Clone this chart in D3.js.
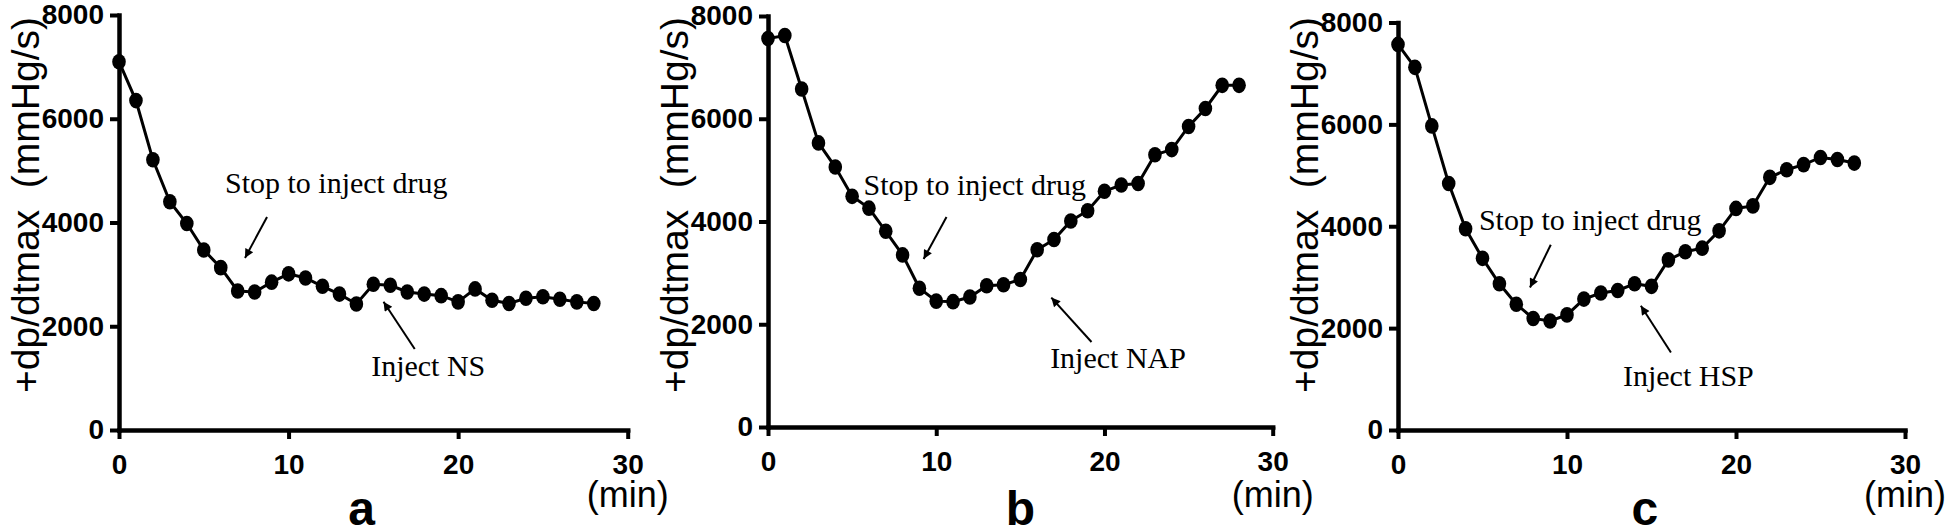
<!DOCTYPE html>
<html>
<head>
<meta charset="utf-8">
<script src="https://cdn.jsdelivr.net/npm/d3@7"></script>
<style>
  html, body { margin: 0; padding: 0; background: #fff; }
  svg { display: block; }
</style>
</head>
<body>
<svg id="fig" width="1949" height="531"></svg>
<script>
// three dp/dtmax time courses: NS / NAP / HSP

const timeA = [0, 1, 2, 3, 4, 5, 6, 7, 8, 9, 10, 11, 12, 13, 14, 15, 16, 17, 18, 19, 20, 21, 22, 23, 24, 25, 26, 27, 28];
const dpNS = [7100, 6350, 5210, 4400, 3980, 3470, 3130, 2680, 2660, 2850, 3010, 2930, 2770, 2620, 2430,
  2810, 2790, 2660, 2620, 2590, 2470, 2720, 2500, 2440, 2540, 2570, 2520, 2470, 2440];

const timeB = [0, 1, 2, 3, 4, 5, 6, 7, 8, 9, 10, 11, 12, 13, 14, 15, 16, 17, 18, 19, 20, 21, 22, 23, 24, 25, 26, 27, 28];
const dpNAP = [7560, 7620, 6580, 5530, 5060, 4490, 4260, 3810, 3350, 2700, 2450, 2440, 2530, 2750, 2770,
  2870, 3450, 3650, 4010, 4210, 4590, 4710, 4740, 5300, 5400, 5850, 6200, 6650, 6650];

const timeC = [0, 1, 2, 3, 4, 5, 6, 7, 8, 9, 10, 11, 12, 13, 14, 15, 16, 17, 18, 19, 20, 21, 22, 23, 24, 25, 26, 27];
const dpHSP = [7570, 7120, 5970, 4840, 3950, 3370, 2870, 2470, 2190, 2140, 2260, 2570, 2690, 2740, 2870,
  2820, 3340, 3500, 3570, 3910, 4350, 4400, 4960, 5110, 5210, 5350, 5310, 5240];

const xTicks = [0, 10, 20, 30];
const yTicks = [0, 2000, 4000, 6000, 8000];
const panelLetters = ["a", "b", "c"];
const stopLabel = "Stop to inject drug";
const injectLabels = ["Inject NS", "Inject NAP", "Inject HSP"];
const yTitle = "+dp/dtmax\u00a0\u00a0(mmHg/s)";
const xUnit = "(min)";

// annotations in data units: text anchor [t, v], arrow tail -> tip
const stopNotes = [
  { text: [6.25, 4570], tail: [8.73, 4106], tip: [7.43, 3316] },
  { text: [5.68, 4516], tail: [10.61, 4088], tip: [9.25, 3270] },
  { text: [4.79, 3917], tail: [9.04, 3638], tip: [7.81, 2797] },
];
const injectNotes = [
  { text: [14.87, 1041], tail: [17.44, 1561], tip: [15.6, 2473] },
  { text: [16.77, 1148], tail: [19.23, 1655], tip: [16.84, 2519] },
  { text: [13.31, 868], tail: [16.15, 1521], tip: [14.37, 2438] },
];
const letterAt = [14.3, 15.0, 14.6];

// panel frames (pixels)
const frames = [
  { x0: 119, x1: 627.7, y0: 430, y1: 15 },
  { x0: 768, x1: 1272.7, y0: 427, y1: 16 },
  { x0: 1398, x1: 1905, y0: 430, y1: 22.5 },
];

const NARROW = "'Liberation Sans Narrow', 'Arial Narrow', 'Liberation Sans', Arial, sans-serif";
const SANS = "'Liberation Sans', Arial, sans-serif";
const SERIF = "'Liberation Serif', 'Times New Roman', serif";

const svg = d3.select("#fig");

svg.append("defs").append("marker")
  .attr("id", "ah").attr("viewBox", "0 0 10 10")
  .attr("refX", 10).attr("refY", 5)
  .attr("markerWidth", 13).attr("markerHeight", 9)
  .attr("markerUnits", "userSpaceOnUse")
  .attr("orient", "auto")
  .append("path").attr("d", "M0,0 L10,5 L0,10 Z").attr("fill", "#000");

const series = [
  { t: timeA, v: dpNS },
  { t: timeB, v: dpNAP },
  { t: timeC, v: dpHSP },
];

series.forEach((s, i) => {
  const f = frames[i];
  const x = d3.scaleLinear().domain([0, 30]).range([f.x0, f.x1]);
  const y = d3.scaleLinear().domain([0, 8000]).range([f.y0, f.y1]);
  const g = svg.append("g");

  // axes
  const ax = g.append("g").attr("transform", `translate(0,${f.y0})`)
    .call(d3.axisBottom(x).tickValues(xTicks).tickSize(9).tickSizeOuter(0).tickPadding(15).tickFormat(d3.format("d")));
  const ay = g.append("g").attr("transform", `translate(${f.x0},0)`)
    .call(d3.axisLeft(y).tickValues(yTicks).tickSize(9).tickSizeOuter(0).tickPadding(6).tickFormat(d3.format("d")));
  [ax, ay].forEach(a => {
    a.select(".domain").attr("stroke", "#000").attr("stroke-width", 4.5).attr("stroke-linecap", "square");
    a.selectAll(".tick line").attr("stroke", "#000").attr("stroke-width", 4);
    a.selectAll(".tick text")
      .attr("fill", "#000")
      .style("font-family", NARROW).style("font-weight", "bold").style("font-size", "28px");
  });

  // y title
  g.append("text")
    .attr("transform", `translate(${f.x0 - 94},205) rotate(-90)`)
    .attr("text-anchor", "middle").attr("dominant-baseline", "central")
    .style("font-family", SANS).style("font-size", "39px").attr("fill", "#000")
    .text(yTitle);

  // x unit
  g.append("text")
    .attr("x", x(30)).attr("y", 507)
    .attr("text-anchor", "middle")
    .style("font-family", SANS).style("font-size", "36px").attr("fill", "#000")
    .text(xUnit);

  // panel letter
  g.append("text")
    .attr("x", x(letterAt[i])).attr("y", 525)
    .attr("text-anchor", "middle")
    .style("font-family", SANS).style("font-weight", "bold").style("font-size", "48px").attr("fill", "#000")
    .text(panelLetters[i]);

  // series line + markers
  const pts = s.t.map((t, k) => [t, s.v[k]]);
  g.append("path")
    .attr("d", d3.line().x(d => x(d[0])).y(d => y(d[1]))(pts))
    .attr("fill", "none").attr("stroke", "#000").attr("stroke-width", 3);
  g.selectAll("ellipse.pt").data(pts).join("ellipse")
    .attr("class", "pt")
    .attr("cx", d => x(d[0])).attr("cy", d => y(d[1]))
    .attr("rx", 6.8).attr("ry", 7.8).attr("fill", "#000");

  // annotations
  [[stopNotes[i], stopLabel], [injectNotes[i], injectLabels[i]]].forEach(([n, label]) => {
    g.append("text")
      .attr("x", x(n.text[0])).attr("y", y(n.text[1]))
      .style("font-family", SERIF).style("font-size", "30px").attr("fill", "#000")
      .text(label);
    g.append("line")
      .attr("x1", x(n.tail[0])).attr("y1", y(n.tail[1]))
      .attr("x2", x(n.tip[0])).attr("y2", y(n.tip[1]))
      .attr("stroke", "#000").attr("stroke-width", 2)
      .attr("marker-end", "url(#ah)");
  });
});
</script>
</body>
</html>
